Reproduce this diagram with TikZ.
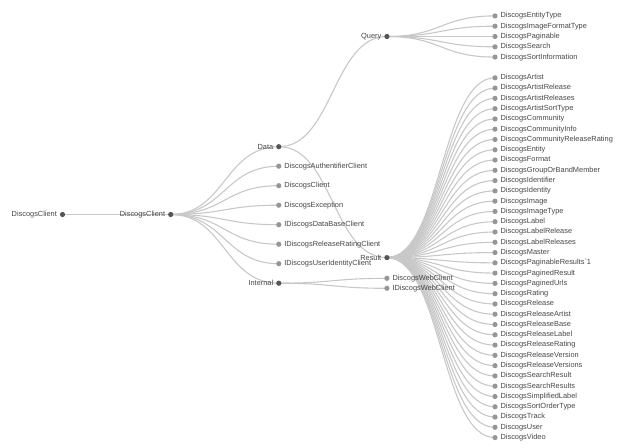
\documentclass[tikz,border=0pt]{standalone}
\usepackage{fontspec}
\newfontfamily\lbf{Liberation Sans}
\usetikzlibrary{backgrounds,calc}
\definecolor{linkgray}{RGB}{200,200,200}
\definecolor{leafgray}{RGB}{150,150,150}
\definecolor{innergray}{RGB}{85,85,85}
\definecolor{txtgray}{RGB}{70,70,70}
\tikzset{
  lbltxt/.style={font=\lbf\fontsize{7.4}{8}\selectfont, text=txtgray, inner sep=0pt, label distance=2.6pt},
  leafdot/.style={circle, fill=leafgray, inner sep=0pt, minimum size=5.2pt},
  innerdot/.style={circle, fill=innergray, inner sep=0pt, minimum size=5.2pt},
  treelink/.style={draw=linkgray, line width=1.1pt},
}
\newcommand{\tlink}[2]{%
  \draw[treelink] let \p1=(#1), \p2=(#2) in (\p1) .. controls ({(\x1+\x2)/2},\y1) and ({(\x1+\x2)/2},\y2) .. (\p2);}
\begin{document}
\begin{tikzpicture}[x=1pt,y=-1pt]
\useasboundingbox (0,0) rectangle (639,447);
% level 0,1
\node[innerdot, label={[lbltxt]180:DiscogsClient}] (root) at (62.5,214.5) {};
\node[innerdot, label={[lbltxt]180:DiscogsClient}] (dc) at (170.7,214.5) {};
% level 2
\node[innerdot, label={[lbltxt]180:Data}] (data) at (278.8,146.7) {};
\node[leafdot, label={[lbltxt]0:DiscogsAuthentifierClient}] (auth) at (278.8,166.2) {};
\node[leafdot, label={[lbltxt]0:DiscogsClient}] (dcl) at (278.8,185.7) {};
\node[leafdot, label={[lbltxt]0:DiscogsException}] (exc) at (278.8,205.2) {};
\node[leafdot, label={[lbltxt]0:IDiscogsDataBaseClient}] (idb) at (278.8,224.7) {};
\node[leafdot, label={[lbltxt]0:IDiscogsReleaseRatingClient}] (irr) at (278.8,244.2) {};
\node[leafdot, label={[lbltxt]0:IDiscogsUserIdentityClient}] (iui) at (278.8,263.7) {};
\node[innerdot, label={[lbltxt]180:Internal}] (internal) at (278.8,283.2) {};
% level 3
\node[innerdot, label={[lbltxt]180:Query}] (query) at (386.9,36.5) {};
\node[innerdot, label={[lbltxt]180:Result}] (result) at (386.9,257.6) {};
\node[leafdot, label={[lbltxt]0:DiscogsWebClient}] (wc) at (386.9,278.3) {};
\node[leafdot, label={[lbltxt]0:IDiscogsWebClient}] (iwc) at (386.9,288.3) {};
% query children
\foreach \t [count=\i from 0] in {DiscogsEntityType,DiscogsImageFormatType,DiscogsPaginable,DiscogsSearch,DiscogsSortInformation}
  \node[leafdot, label={[lbltxt]0:\t}] (q\i) at (495,{15.9+\i*10.3}) {};
% result children
\foreach \t [count=\i from 0] in {DiscogsArtist,DiscogsArtistRelease,DiscogsArtistReleases,DiscogsArtistSortType,DiscogsCommunity,DiscogsCommunityInfo,DiscogsCommunityReleaseRating,DiscogsEntity,DiscogsFormat,DiscogsGroupOrBandMember,DiscogsIdentifier,DiscogsIdentity,DiscogsImage,DiscogsImageType,DiscogsLabel,DiscogsLabelRelease,DiscogsLabelReleases,DiscogsMaster,DiscogsPaginableResults`1,DiscogsPaginedResult,DiscogsPaginedUrls,DiscogsRating,DiscogsRelease,DiscogsReleaseArtist,DiscogsReleaseBase,DiscogsReleaseLabel,DiscogsReleaseRating,DiscogsReleaseVersion,DiscogsReleaseVersions,DiscogsSearchResult,DiscogsSearchResults,DiscogsSimplifiedLabel,DiscogsSortOrderType,DiscogsTrack,DiscogsUser,DiscogsVideo}
  \node[leafdot, label={[lbltxt]0:\t}] (r\i) at (495,{77.8+\i*10.28}) {};
% links
\begin{scope}[on background layer]
\tlink{root}{dc}
\foreach \nm in {data,auth,dcl,exc,idb,irr,iui,internal} {\tlink{dc}{\nm}}
\tlink{data}{query}
\tlink{data}{result}
\tlink{internal}{wc}
\tlink{internal}{iwc}
\foreach \k in {0,...,4} {\tlink{query}{q\k}}
\foreach \k in {0,...,35} {\tlink{result}{r\k}}
\end{scope}
\end{tikzpicture}
\end{document}
